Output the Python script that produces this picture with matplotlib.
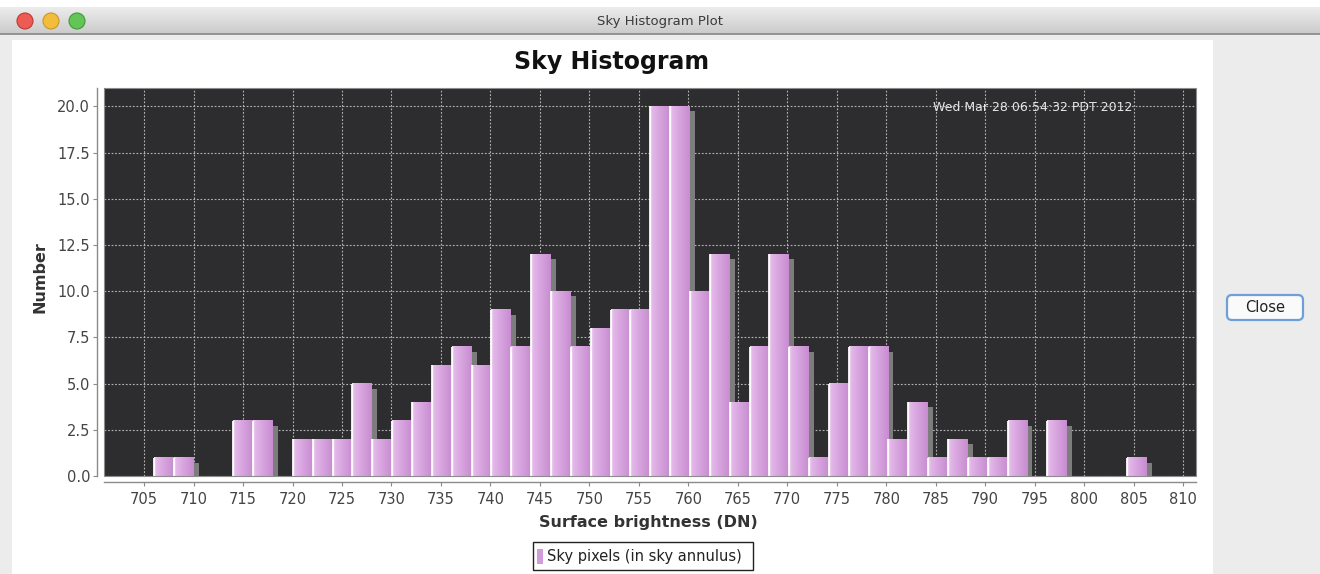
import numpy as np
import matplotlib
matplotlib.use("Agg")
import matplotlib.pyplot as plt
from matplotlib.patches import Rectangle, Circle, FancyBboxPatch
from matplotlib.colors import LinearSegmentedColormap, to_rgb
from matplotlib.transforms import ScaledTranslation

# histogram data
bin_start = 706.0
bin_width = 2.006
counts = [1, 1, 0, 0, 3, 3, 0, 2, 2, 2,
          5, 2, 3, 4, 6, 7, 6, 9, 7, 12,
          10, 7, 8, 9, 9, 20, 20, 10, 12, 4,
          7, 12, 7, 1, 5, 7, 7, 2, 4, 1,
          2, 1, 1, 3, 0, 3, 0, 0, 0, 1]
x_ticks = list(range(705, 811, 5))
y_ticks = [0.0, 2.5, 5.0, 7.5, 10.0, 12.5, 15.0, 17.5, 20.0]

window_title = "Sky Histogram Plot"
chart_title = "Sky Histogram"
x_label = "Surface brightness (DN)"
y_label = "Number"
legend_label = "Sky pixels (in sky annulus)"
timestamp = "Wed Mar 28 06:54:32 PDT 2012"

W, H = 1320, 574
fig = plt.figure(figsize=(W / 100, H / 100), dpi=100)
fig.patch.set_facecolor("#ececec")

# ---- window chrome, drawn in pixel coords ----
chrome = fig.add_axes([0, 0, 1, 1], zorder=0)
chrome.set_xlim(0, W)
chrome.set_ylim(H, 0)
chrome.axis("off")

chrome.add_patch(Rectangle((0, 0), W, 7, fc="white", ec="none"))
top, bot = np.array(to_rgb("#ececec")), np.array(to_rgb("#cbcbcb"))
t = np.linspace(0, 1, 40)[:, None, None]
bar_grad = (top * (1 - t) + bot * t) * np.ones((1, 2, 3))
chrome.imshow(bar_grad, extent=(0, W, 34, 7), aspect="auto", zorder=1)
chrome.plot([0, W], [34, 34], color="#858585", lw=1.2, zorder=2)
chrome.add_patch(Rectangle((12, 40), 1201, H - 40, fc="white", ec="none"))

for cx, fc, ec in [(25, "#ee5b54", "#b93a33"), (51, "#f3bd3c", "#c9962a"), (77, "#62c556", "#3e9b38")]:
    chrome.add_patch(Circle((cx, 21), 8, fc=fc, ec=ec, lw=0.8, zorder=3))
chrome.text(660, 21, window_title, ha="center", va="center", fontsize=9.5, color="#3a3a3a")

# close button
chrome.add_patch(FancyBboxPatch((1227, 295), 76, 25, boxstyle="round,pad=0,rounding_size=5",
                                fc="#fafafa", ec="#6f9fd8", lw=1.6))
chrome.text(1265, 307.5, "Close", ha="center", va="center", fontsize=10.5, color="#222222")

# legend
chrome.add_patch(Rectangle((533, 542), 220, 28, fc="white", ec="#222222", lw=1))
chrome.add_patch(Rectangle((537, 549), 6, 15, fc="#d29bdb", ec="none"))
chrome.text(547, 556, legend_label, ha="left", va="center", fontsize=10.5, color="#222222")

# titles / axis labels
chrome.text(612, 62, chart_title, ha="center", va="center", fontsize=17, fontweight="bold", color="#111111")
chrome.text(648, 523, x_label, ha="center", va="center", fontsize=11.5, fontweight="bold", color="#333333")
chrome.text(40, 277, y_label, ha="center", va="center", rotation=90, fontsize=11.5, fontweight="bold", color="#333333")

# ---- plot ----
ax = fig.add_axes([104 / W, 1 - 476 / H, 1092 / W, 388 / H], zorder=1)
ax.set_facecolor("#2d2c2f")

counts = np.array(counts)
lefts = bin_start + bin_width * np.arange(len(counts))
nz = counts > 0

# shadows, offset a few pixels right/down
shadow = ax.bar(lefts, counts, width=bin_width, align="edge", color="#7d7d7d", lw=0, zorder=2)
off = ax.transData + ScaledTranslation(5 / 100, -5 / 100, fig.dpi_scale_trans)
for p in shadow:
    p.set_transform(off)

bar_cmap = LinearSegmentedColormap.from_list(
    "barfill", [(0, "#f4e0f6"), (0.12, "#e3b7e9"), (0.45, "#d9a6e0"), (1, "#c78dd0")])
grad = np.linspace(0, 1, 64)[None, :]
for l, c in zip(lefts[nz], counts[nz]):
    ax.imshow(grad, extent=(l, l + bin_width, 0, c), cmap=bar_cmap, aspect="auto",
              interpolation="bilinear", zorder=3)
ax.vlines(lefts[nz], 0, counts[nz], colors="white", lw=1.3, zorder=4)

ax.set_xlim(700.95, 811.3)
ax.set_ylim(0, 21.0)
ax.set_aspect("auto")
ax.set_xticks(x_ticks)
ax.set_yticks(y_ticks)
ax.set_yticklabels([f"{v:.1f}" for v in y_ticks])

ax.grid(True, color="#b4b4b4", lw=0.8, linestyle=(0, (1.6, 1.6)), zorder=1)
ax.set_axisbelow(True)

for s in ["top", "right"]:
    ax.spines[s].set_visible(False)
ax.spines["left"].set_position(("outward", 5))
ax.spines["bottom"].set_position(("outward", 4.5))
for s in ["left", "bottom"]:
    ax.spines[s].set_color("#8a8a8a")
    ax.spines[s].set_linewidth(1)
ax.add_patch(Rectangle((0, 0), 1, 1, transform=ax.transAxes, fill=False,
                       ec="#8c8c8c", lw=0.8, zorder=6, clip_on=False))
ax.tick_params(axis="both", length=3, width=0.8, color="#8a8a8a", labelcolor="#444444", labelsize=10.5)
ax.tick_params(axis="x", pad=4)
ax.tick_params(axis="y", pad=2)

ax.text(0.9414, 0.9485, timestamp, transform=ax.transAxes, ha="right", va="center",
        fontsize=9, color="#e6e6e6", zorder=7)

fig.savefig("out.png", dpi=100)
